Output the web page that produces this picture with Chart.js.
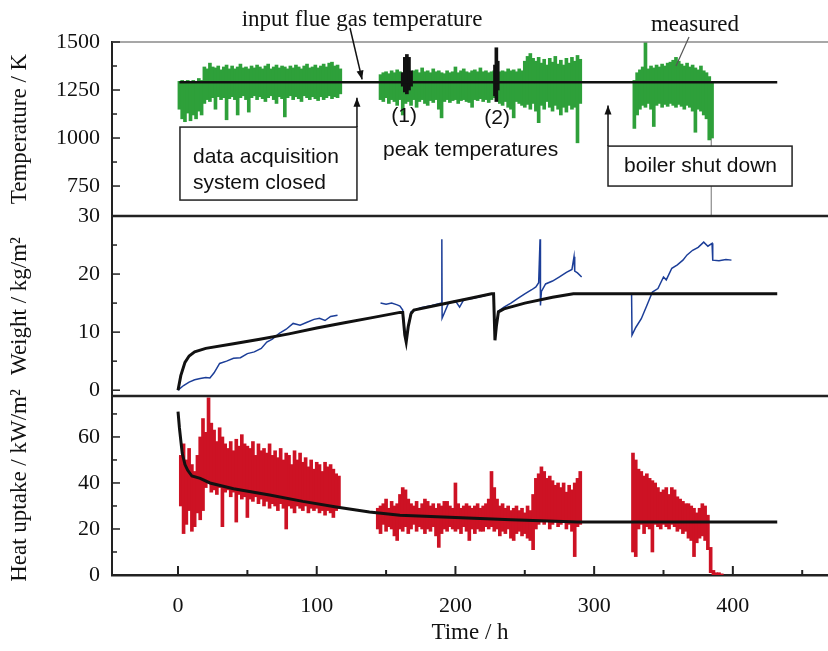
<!DOCTYPE html>
<html>
<head>
<meta charset="utf-8">
<script src="https://cdn.jsdelivr.net/npm/chart.js@4.4.1/dist/chart.umd.min.js"></script>
<style>
  html, body { margin: 0; padding: 0; background: #fff; }
  #wrap { width: 828px; height: 651px; }
</style>
</head>
<body>
<div id="wrap"><canvas id="graph" width="828" height="651"></canvas></div>
<script>
// ---- Temperature panel (K) ----
// flue gas input temperature (black line)
const flueTime = [1, 432];
const flueTemp = [1290, 1290];

// measured temperature: envelope (low / high) per sample
const tempTime = [1,3,5,7,9,11,13,15,17,19,21,23,25,27,29,31,33,35,37,39,41,43,45,47,49,51,53,55,57,59,61,63,65,67,69,71,73,75,77,79,81,83,85,87,89,91,93,95,97,99,101,103,105,107,109,111,113,115,117,
  146,148,150,152,154,156,158,160,162,164,166,168,170,172,174,176,178,180,182,184,186,188,190,192,194,196,198,200,202,204,206,208,210,212,214,216,218,220,222,224,226,228,230,232,234,236,238,240,242,244,246,248,250,252,254,256,258,260,262,264,266,268,270,272,274,276,278,280,282,284,286,288,290,
  329,331,333,335,337,339,341,343,345,347,349,351,353,355,357,359,361,363,365,367,369,371,373,375,377,379,381,383,385];
const tempLow = [1150,1100,1085,1130,1090,1120,1100,1140,1120,1180,1200,1190,1210,1150,1215,1200,1210,1095,1205,1215,1200,1120,1210,1220,1200,1135,1210,1220,1200,1215,1205,1190,1210,1220,1200,1180,1215,1205,1110,1210,1220,1200,1215,1205,1190,1220,1210,1200,1215,1205,1195,1215,1200,1210,1220,1205,1215,1210,1230,
  1200,1190,1210,1180,1200,1190,1170,1200,1120,1180,1190,1170,1200,1160,1190,1200,1180,1170,1195,1185,1200,1150,1105,1190,1200,1185,1195,1200,1180,1195,1200,1190,1185,1160,1200,1195,1205,1190,1200,1185,1200,1210,1195,1180,1170,1190,1160,1150,1105,1190,1180,1170,1160,1175,1150,1180,1140,1080,1170,1150,1190,1160,1140,1170,1150,1120,1160,1135,1170,1150,1160,975,1180,
  1050,1120,1150,1170,1160,1180,1150,1060,1170,1180,1160,1175,1165,1180,1170,1160,1175,1165,1150,1170,1160,1140,1030,1150,1140,1120,1100,990,1000];
const tempHigh = [1295,1300,1290,1300,1295,1300,1295,1310,1300,1370,1360,1390,1370,1365,1375,1355,1370,1380,1360,1375,1360,1370,1385,1365,1370,1360,1375,1365,1380,1370,1360,1375,1385,1360,1370,1380,1365,1375,1370,1360,1375,1365,1380,1370,1360,1375,1385,1365,1370,1380,1365,1375,1385,1370,1390,1395,1375,1380,1360,
  1330,1340,1345,1335,1350,1340,1355,1345,1340,1350,1360,1345,1350,1355,1340,1365,1345,1350,1340,1360,1345,1350,1340,1335,1350,1340,1345,1370,1340,1350,1360,1345,1340,1350,1355,1345,1365,1345,1350,1340,1345,1350,1355,1345,1350,1345,1360,1350,1355,1345,1360,1350,1400,1425,1440,1415,1400,1420,1390,1410,1380,1415,1395,1425,1385,1405,1380,1415,1390,1420,1400,1430,1410,
  1300,1340,1355,1370,1500,1360,1375,1365,1380,1370,1385,1375,1390,1395,1405,1420,1400,1385,1375,1390,1370,1380,1365,1355,1375,1350,1340,1320,1290];

// peak temperatures (1) and (2)
const peakTime = [162, 163.5, 165, 166.5, 168, 228.5, 229.5, 230.5];
const peakLow = [1270, 1240, 1230, 1250, 1270, 1220, 1190, 1250];
const peakHigh = [1340, 1420, 1435, 1420, 1350, 1380, 1470, 1400];

// boiler shut down trace
const shutTime = [384.5, 384.5];
const shutTemp = [1000, 594];

// ---- Weight panel (kg/m2) ----
const modelWeightTime = [0,2,5,8,12,20,40,60,80,100,120,140,160,162,163.5,164.5,166,168,170,190,210,226,227.5,228.5,229.5,231,235,250,270,285,432];
const modelWeight = [0,2.5,4.8,5.9,6.6,7.2,8.0,8.8,9.7,10.7,11.6,12.5,13.4,13.4,9.5,8.3,11,13.2,13.8,14.8,15.8,16.6,16.6,8.6,11,13.5,14,15,16,16.6,16.6];

const weightTime = [0,4,8,12,16,20,23,26,30,35,40,45,50,55,60,64,68,73,78,83,88,93,98,102,106,110,115,
  130,
  146,150,154,158,160,162,163.5,164.5,166,168,175,183,190,190.2,190.4,195,200,203,206,212,220,226,227.5,228.5,229.5,231,235,240,245,250,255,258,260,261,261.3,262,265,270,275,280,284,285.5,286,288,291,
  310,
  327,327.3,330,334,338,342,346,350,352,356,360,364,367,371,375,379,382,385,385.5,390,395,399];
const weightMeas = [0,0.8,1.4,1.8,2.0,2.2,2.1,3.0,4.6,5.0,5.5,5.6,6.3,6.6,7.2,8.3,8.8,9.8,10.5,11.5,11.2,11.7,12.2,12.4,12.0,12.7,12.9,
  null,
  15.0,14.8,15.0,14.7,14.5,13.8,10,8.5,11,13.5,14.2,14.6,15,26,12.4,15,15.4,14.3,15.6,15.8,16.2,16.6,16.6,9,11,13.6,14.3,15,15.8,16.6,17.3,17.8,18.5,26,14.6,17.0,18.3,18.8,19.5,20.3,20.8,23,20.5,20.2,19.5,
  null,
  16.4,9.5,10.8,12.3,14.6,16.9,17.5,19.5,19.0,21.0,21.6,22.4,23.3,24.1,24.6,25.5,24.8,25.3,22.4,22.3,22.5,22.4];

// ---- Heat uptake panel (kW/m2) ----
const modelHeatTime = [0,1,3,5,7,10,16,23,40,66,90,114,138,160,200,240,288,432];
const modelHeat = [71,64,53,48,45.5,43,42,40,37.5,34.8,32,29.6,27.4,26,25,24,23,23];

const heatTime = [2,4,6,8,10,12,14,16,18,20,22,24,26,28,30,32,34,36,38,40,42,44,46,48,50,52,54,56,58,60,62,64,66,68,70,72,74,76,78,80,82,84,86,88,90,92,94,96,98,100,102,104,106,108,110,112,114,116,
  144,146,148,150,152,154,156,158,160,162,164,166,168,170,172,174,176,178,180,182,184,186,188,190,192,194,196,198,200,202,204,206,208,210,212,214,216,218,220,222,224,226,228,230,232,234,236,238,240,242,244,246,248,250,252,254,256,258,260,262,264,266,268,270,272,274,276,278,280,282,284,286,288,290,
  328,330,332,334,336,338,340,342,344,346,348,350,352,354,356,358,360,362,364,366,368,370,372,374,376,378,380,382,384,386,388,390,392];
const heatLow = [30,18,22,28,19,21,27,24,28,38,40,36,37,35,38,21,36,37,34,36,23,35,33,34,25,33,32,34,31,33,30,32,29,31,30,28,31,29,20,30,29,27,30,29,28,30,27,29,28,29,27,28,26,28,27,25,28,29,
  20,18,22,19,21,20,17,15,20,19,21,18,20,22,19,21,20,18,20,19,21,17,12,18,20,19,21,20,19,20,18,21,19,15,20,18,20,19,19,21,20,21,19,20,17,19,18,20,16,15,18,19,17,18,16,15,11,20,22,23,22,24,20,22,23,21,22,23,20,22,19,8,21,22,
  10,8,20,22,18,21,20,10,22,21,20,22,21,20,22,21,19,20,18,19,16,15,8,14,16,17,15,11,1,0,0,0,0];
const heatHigh = [52,57,50,55,48,45,52,60,68,62,77,66,63,58,64,60,57,55,58,54,59,56,61,57,56,55,58,52,57,54,55,53,57,52,54,51,55,50,53,52,48,54,50,53,49,51,47,50,46,49,48,45,49,47,48,46,44,43,
  29,30,31,33,29,32,30,31,35,38,37,33,31,30,32,29,31,33,32,30,31,29,31,30,32,32,30,29,40,31,29,30,31,30,29,30,31,29,30,31,33,45,38,33,30,31,29,30,28,29,30,28,29,27,30,28,35,42,44,47,45,42,43,41,39,40,38,40,36,39,37,40,42,45,
  53,50,46,45,43,44,42,41,40,38,36,37,38,35,38,37,34,33,32,31,31,30,29,27,29,31,30,26,12,2,1,1,0.5];

// ---- ticks ----
const timeTicks = [0, 100, 200, 300, 400];
const timeMinor = [50, 150, 250, 350, 450];
const tempTicks = [750, 1000, 1250, 1500];
const tempMinor = [875, 1125, 1375];
const weightTicks = [0, 10, 20, 30];
const weightMinor = [5, 15, 25];
const heatTicks = [0, 20, 40, 60];
const heatMinor = [10, 30, 50, 70];

const SERIF = '"Liberation Serif", "DejaVu Serif", serif';
const SANS = '"Liberation Sans", Arial, sans-serif';

function courbe(temps, valeurs) {
  return temps.map((t, i) => ({ x: t, y: valeurs[i] }));
}
function bande(temps, bas, haut) {
  return temps.map((t, i) => ({ x: t, y: [bas[i], haut[i]] }));
}

function axeY(min, max, ticks, titre, poids) {
  return {
    type: 'linear', position: 'left', stack: 'panneaux', stackWeight: poids,
    min: min, max: max, beginAtZero: false,
    afterBuildTicks: s => { s.ticks = ticks.map(v => ({ value: v })); },
    afterFit: s => { s.width = 112; },
    grid: { display: false, drawTicks: false },
    border: { display: true, color: '#222', width: 2 },
    ticks: { padding: 12, color: '#111', font: { family: SERIF, size: 22 }, callback: v => String(v) },
    title: { display: true, text: titre, color: '#111', font: { family: SERIF, size: 23 }, padding: { top: 6, bottom: 0 } }
  };
}

function ligne(ctx, x1, y1, x2, y2, couleur, epaisseur) {
  ctx.strokeStyle = couleur;
  ctx.lineWidth = epaisseur;
  ctx.beginPath();
  ctx.moveTo(x1, y1);
  ctx.lineTo(x2, y2);
  ctx.stroke();
}

function fleche(ctx, x1, y1, x2, y2) {
  ligne(ctx, x1, y1, x2, y2, '#111', 1.5);
  const ang = Math.atan2(y2 - y1, x2 - x1);
  const L = 9, W = 3.5;
  ctx.fillStyle = '#111';
  ctx.beginPath();
  ctx.moveTo(x2, y2);
  ctx.lineTo(x2 - L * Math.cos(ang) + W * Math.sin(ang), y2 - L * Math.sin(ang) - W * Math.cos(ang));
  ctx.lineTo(x2 - L * Math.cos(ang) - W * Math.sin(ang), y2 - L * Math.sin(ang) + W * Math.cos(ang));
  ctx.closePath();
  ctx.fill();
}

// cadre des panneaux + graduations vers l'intérieur
const cadre = {
  id: 'cadre',
  afterDatasetsDraw(chart) {
    const ctx = chart.ctx, a = chart.chartArea, sx = chart.scales.x;
    const yT = chart.scales.yT, yW = chart.scales.yW;
    ctx.save();
    ligne(ctx, a.left, yT.top, a.right, yT.top, '#8a8a8a', 1.5);
    ligne(ctx, a.left, yT.bottom, a.right, yT.bottom, '#222', 2.5);
    ligne(ctx, a.left, yW.bottom, a.right, yW.bottom, '#222', 2.5);
    [['yT', tempMinor], ['yW', weightMinor], ['yH', heatMinor]].forEach(([id, mineurs]) => {
      const s = chart.scales[id];
      s.ticks.forEach(t => { const p = s.getPixelForValue(t.value); ligne(ctx, a.left, p, a.left + 8, p, '#222', 1.5); });
      mineurs.forEach(v => { const p = s.getPixelForValue(v); ligne(ctx, a.left, p, a.left + 5, p, '#222', 1.5); });
    });
    sx.ticks.forEach(t => { const p = sx.getPixelForValue(t.value); ligne(ctx, p, a.bottom, p, a.bottom - 9, '#222', 2); });
    timeMinor.forEach(v => { const p = sx.getPixelForValue(v); ligne(ctx, p, a.bottom, p, a.bottom - 5, '#222', 2); });
    ctx.restore();
  }
};

// annotations du panneau température
const annotations = {
  id: 'annotations',
  afterDraw(chart) {
    const ctx = chart.ctx;
    const px = t => chart.scales.x.getPixelForValue(t);
    const py = v => chart.scales.yT.getPixelForValue(v);
    ctx.save();
    ctx.fillStyle = '#111';
    ctx.textBaseline = 'middle';

    ctx.font = '23px ' + SERIF;
    ctx.textAlign = 'center';
    ctx.fillText('input flue gas temperature', px(132.7), py(1614));
    ctx.fillText('measured', px(372.7), py(1589));
    fleche(ctx, px(124), py(1573), px(132.7), py(1305));
    ligne(ctx, px(368.4), py(1526), px(359), py(1375), '#555', 1.2);

    // boîte "data acquisition system closed"
    ctx.fillStyle = '#fff';
    ctx.fillRect(px(1.4), py(1057), px(129) - px(1.4), py(677) - py(1057));
    ctx.strokeStyle = '#222'; ctx.lineWidth = 1.5;
    ctx.strokeRect(px(1.4), py(1057), px(129) - px(1.4), py(677) - py(1057));
    fleche(ctx, px(129), py(1057), px(129), py(1210));

    // boîte "boiler shut down"
    ctx.fillStyle = '#fff';
    ctx.fillRect(px(310), py(958), px(442.7) - px(310), py(750) - py(958));
    ctx.strokeStyle = '#222'; ctx.lineWidth = 1.5;
    ctx.strokeRect(px(310), py(958), px(442.7) - px(310), py(750) - py(958));
    fleche(ctx, px(310), py(958), px(310), py(1170));

    ctx.fillStyle = '#111';
    ctx.font = '21px ' + SANS;
    ctx.textAlign = 'left';
    ctx.fillText('data acquisition', px(10.8), py(901));
    ctx.fillText('system closed', px(10.8), py(766));
    ctx.fillText('peak temperatures', px(147.8), py(937));
    ctx.fillText('boiler shut down', px(321.6), py(854));
    ctx.textAlign = 'center';
    ctx.fillText('(1)', px(163), py(1115));
    ctx.fillText('(2)', px(230), py(1104));
    ctx.restore();
  }
};

const GREEN = 'rgb(46,160,58)';
const RED = 'rgb(205,18,36)';
const BLUE = 'rgb(28,62,152)';
const BLACK = '#111';

new Chart(document.getElementById('graph').getContext('2d'), {
  type: 'line',
  data: {
    datasets: [
      { type: 'line', data: courbe(flueTime, flueTemp), yAxisID: 'yT', borderColor: BLACK, borderWidth: 2.5, pointRadius: 0, order: 0 },
      { type: 'bar', data: bande(peakTime, peakLow, peakHigh), yAxisID: 'yT', backgroundColor: BLACK, barThickness: 3, grouped: false, order: 0 },
      { type: 'line', data: courbe(shutTime, shutTemp), yAxisID: 'yT', borderColor: '#9a9a9a', borderWidth: 1, pointRadius: 0, order: 2 },
      { type: 'bar', data: bande(tempTime, tempLow, tempHigh), yAxisID: 'yT', backgroundColor: GREEN, barThickness: 3, grouped: false, order: 1 },

      { type: 'line', data: courbe(modelWeightTime, modelWeight), yAxisID: 'yW', borderColor: BLACK, borderWidth: 3, pointRadius: 0, order: 0 },
      { type: 'line', data: courbe(weightTime, weightMeas), yAxisID: 'yW', borderColor: BLUE, borderWidth: 1.5, pointRadius: 0, spanGaps: false, order: 1 },

      { type: 'line', data: courbe(modelHeatTime, modelHeat), yAxisID: 'yH', borderColor: BLACK, borderWidth: 3, pointRadius: 0, order: 0 },
      { type: 'bar', data: bande(heatTime, heatLow, heatHigh), yAxisID: 'yH', backgroundColor: RED, barThickness: 3, grouped: false, order: 1 }
    ]
  },
  options: {
    responsive: false,
    animation: false,
    devicePixelRatio: 1,
    layout: { padding: { top: 42, right: 0, left: 0, bottom: 0 } },
    plugins: { legend: { display: false }, tooltip: { enabled: false } },
    scales: {
      x: {
        type: 'linear', position: 'bottom', min: -47.6, max: 468.6, offset: false,
        afterBuildTicks: s => { s.ticks = timeTicks.map(v => ({ value: v })); },
        afterFit: s => { s.height = 76; },
        grid: { display: false, drawTicks: false },
        border: { display: true, color: '#222', width: 2.5 },
        ticks: { padding: 18, color: '#111', font: { family: SERIF, size: 22 }, maxRotation: 0, callback: v => String(v) },
        title: { display: true, text: 'Time / h', color: '#111', font: { family: SERIF, size: 23 }, padding: { top: 0, bottom: 4 } }
      },
      // les échelles empilées à gauche sont placées de bas en haut dans l'ordre de déclaration
      yH: axeY(0, 77.8, heatTicks, 'Heat uptake / kW/m²', 179),
      yW: axeY(-1, 30, weightTicks, 'Weight / kg/m²', 180),
      yT: axeY(594, 1500, tempTicks, 'Temperature / K', 174)
    }
  },
  plugins: [cadre, annotations]
});
</script>
</body>
</html>
